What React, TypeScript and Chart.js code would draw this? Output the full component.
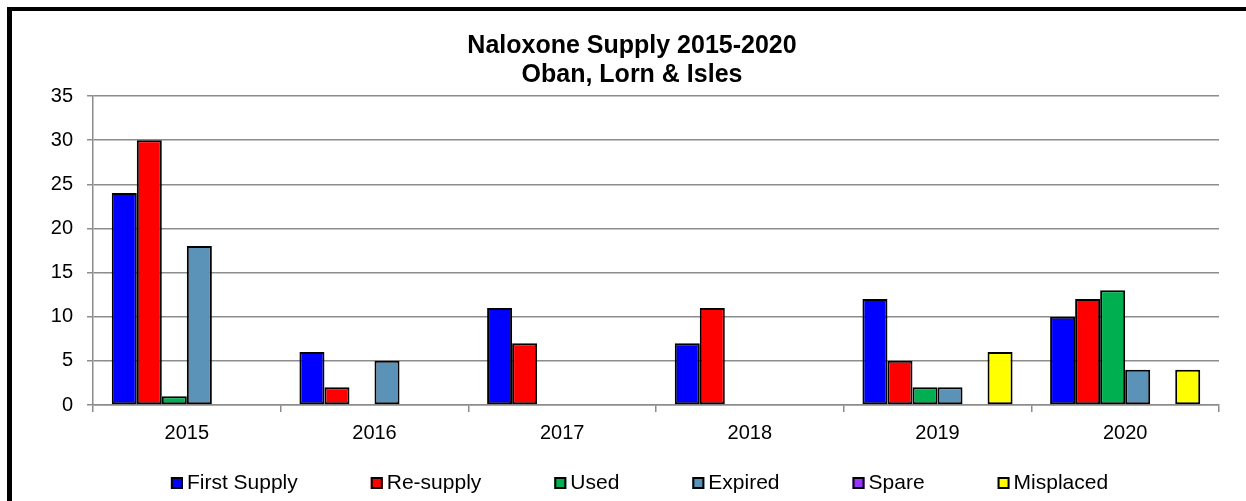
import React, { useEffect, useRef } from "react";
import { Chart, registerables } from "chart.js";

Chart.register(...registerables);

const TITLE_LINES = ["Naloxone Supply 2015-2020", "Oban, Lorn & Isles"];
const CATEGORIES = ["2015", "2016", "2017", "2018", "2019", "2020"];
const SERIES_NAMES = ["First Supply", "Re-supply", "Used", "Expired", "Spare", "Misplaced"];
const FIRST_SUPPLY = [24, 6, 11, 7, 12, 10];
const RE_SUPPLY = [30, 2, 7, 11, 5, 12];
const USED = [1, 0, 0, 0, 2, 13];
const EXPIRED = [18, 5, 0, 0, 2, 4];
const SPARE = [0, 0, 0, 0, 0, 0];
const MISPLACED = [0, 0, 0, 0, 6, 4];
const SERIES_COLORS = ["#0000FF", "#FF0000", "#00B050", "#5B92B8", "#9933FF", "#FFFF00"];
const Y_MIN = 0;
const Y_MAX = 35;
const Y_STEP = 5;

const FONT = '"Liberation Sans", Arial, Helvetica, sans-serif';
const GRID = "#8c8c8c";

const titlePlugin = {
  id: "excelTitle",
  afterDraw(chart: any) {
    const ctx = chart.ctx;
    ctx.save();
    ctx.fillStyle = "#000";
    ctx.font = `bold 25px ${FONT}`;
    ctx.textAlign = "center";
    ctx.textBaseline = "middle";
    TITLE_LINES.forEach((t, i) => ctx.fillText(t, 632, 46 + i * 29));
    ctx.restore();
  },
};

const legendPlugin = {
  id: "excelLegend",
  afterDraw(chart: any) {
    const ctx = chart.ctx;
    ctx.save();
    ctx.font = `21px ${FONT}`;
    const box = 12;
    const gapText = 4;
    const gap = 73;
    const items = chart.data.datasets.map((ds: any) => ({
      text: ds.label,
      color: ds.backgroundColor,
      w: box + gapText + ctx.measureText(ds.label).width,
    }));
    const total = items.reduce((a: number, it: any) => a + it.w, 0) + gap * (items.length - 1);
    let x = 639.5 - total / 2;
    const y = 483;
    items.forEach((it: any) => {
      ctx.fillStyle = it.color;
      ctx.fillRect(x, y - box / 2, box, box);
      ctx.strokeStyle = "#000";
      ctx.lineWidth = 2;
      ctx.strokeRect(x + 1, y - box / 2 + 1, box - 2, box - 2);
      ctx.fillStyle = "#000";
      ctx.textAlign = "left";
      ctx.textBaseline = "middle";
      ctx.fillText(it.text, x + box + gapText, y);
      x += it.w + gap;
    });
    ctx.restore();
  },
};

export default function App() {
  const ref = useRef<HTMLCanvasElement | null>(null);

  useEffect(() => {
    if (!ref.current) return;
    const values = [FIRST_SUPPLY, RE_SUPPLY, USED, EXPIRED, SPARE, MISPLACED];
    const chart = new Chart(ref.current, {
      type: "bar",
      data: {
        labels: CATEGORIES,
        datasets: SERIES_NAMES.map((name, i) => ({
          label: name,
          data: values[i],
          backgroundColor: SERIES_COLORS[i],
          borderColor: "#000",
          borderWidth: 2,
          borderSkipped: false,
          categoryPercentage: 0.8,
          barPercentage: 1,
        })),
      },
      options: {
        responsive: false,
        animation: false,
        layout: { padding: { left: 0, top: 96, right: 27, bottom: 56 } },
        plugins: {
          legend: { display: false },
          title: { display: false },
          tooltip: { enabled: false },
        },
        scales: {
          x: {
            grid: {
              offset: true,
              drawOnChartArea: false,
              drawTicks: true,
              tickLength: 7,
              color: GRID,
              lineWidth: 1.5,
            },
            border: { display: true, color: GRID, width: 1.5 },
            ticks: { color: "#000", font: { family: FONT, size: 20 }, padding: 9, maxRotation: 0 },
            afterFit: (s: any) => {
              s.height = 40;
            },
          },
          y: {
            min: Y_MIN,
            max: Y_MAX,
            ticks: { stepSize: Y_STEP, color: "#000", font: { family: FONT, size: 20 }, padding: 14 },
            grid: { color: GRID, lineWidth: 1.5, tickLength: 6, drawTicks: true },
            border: { display: true, color: GRID, width: 1.5 },
            afterFit: (s: any) => {
              s.width = 93;
            },
          },
        },
      },
      plugins: [titlePlugin, legendPlugin],
    } as any);
    return () => chart.destroy();
  }, []);

  return (
    <div style={{ position: "fixed", left: 0, top: 0, right: 0, bottom: 0, overflow: "hidden", background: "#fff" }}>
      <canvas ref={ref} width={1246} height={501} style={{ position: "absolute", left: 0, top: 0, display: "block" }} />
      <div
        style={{
          position: "absolute",
          left: 7,
          top: 7,
          width: 1300,
          height: 600,
          borderLeft: "5px solid #000",
          borderTop: "4px solid #000",
          pointerEvents: "none",
        }}
      />
    </div>
  );
}
